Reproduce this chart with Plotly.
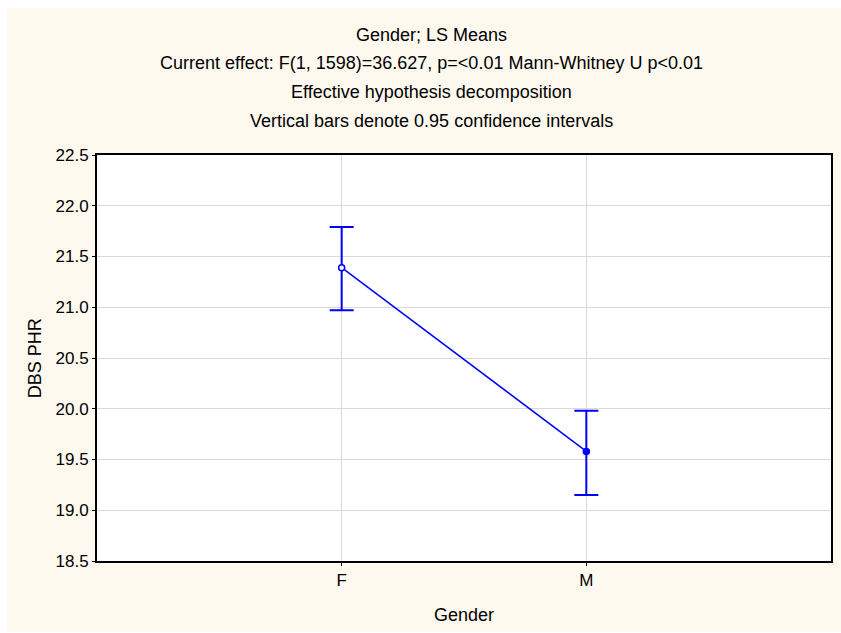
import plotly.graph_objects as go

categories = ["F", "M"]
means = [21.39, 19.58]
upper = [21.79, 19.98]
lower = [20.97, 19.15]
y_ticks = [18.5, 19.0, 19.5, 20.0, 20.5, 21.0, 21.5, 22.0, 22.5]
title_lines = [
    "Gender; LS Means",
    "Current effect: F(1, 1598)=36.627, p=<0.01 Mann-Whitney U p<0.01",
    "Effective hypothesis decomposition",
    "Vertical bars denote 0.95 confidence intervals",
]
x_label = "Gender"
y_label = "DBS PHR"

W, H = 841, 633
L, R, T, B = 97, 833, 155, 561
FONT = "Liberation Sans, Arial, sans-serif"
BEIGE = "#FEF9EF"


def px_x(p):
    return (p - L) / (R - L)


def px_y(p):
    return (B - p) / (B - T)


fig = go.Figure()
fig.add_trace(go.Scatter(
    x=categories, y=means,
    mode="lines+markers",
    line=dict(color="#0000FF", width=1.5),
    marker=dict(size=6, color=["white", "#0000FF"], line=dict(color="#0000FF", width=1.5)),
    error_y=dict(type="data", symmetric=False,
                 array=[u - m for u, m in zip(upper, means)],
                 arrayminus=[m - l for m, l in zip(means, lower)],
                 color="#0000FF", thickness=2, width=12),
    showlegend=False,
))

shapes = [
    dict(type="rect", xref="paper", yref="paper",
         x0=px_x(7), x1=px_x(845), y0=px_y(632), y1=px_y(8),
         fillcolor=BEIGE, line=dict(width=0), layer="below"),
    dict(type="rect", xref="paper", yref="paper", x0=0, x1=1, y0=0, y1=1,
         fillcolor="white", line=dict(width=0), layer="below"),
]

annotations = []
for txt, yy in zip(title_lines, [35, 63, 92, 121]):
    annotations.append(dict(text=txt, xref="paper", yref="paper", x=px_x(432), y=px_y(yy),
                            xanchor="center", yanchor="middle", showarrow=False,
                            font=dict(family=FONT, size=18, color="black")))
annotations.append(dict(text=x_label, xref="paper", yref="paper", x=px_x(465), y=px_y(615),
                        xanchor="center", yanchor="middle", showarrow=False,
                        font=dict(family=FONT, size=18, color="black")))
annotations.append(dict(text=y_label, xref="paper", yref="paper", x=px_x(35), y=px_y(358),
                        xanchor="center", yanchor="middle", showarrow=False, textangle=-90,
                        font=dict(family=FONT, size=18, color="black")))

fig.update_layout(
    width=W, height=H,
    margin=dict(l=L, r=W - R, t=T, b=H - B, pad=0),
    paper_bgcolor="white", plot_bgcolor="white",
    font=dict(family=FONT, size=17, color="black"),
    shapes=shapes, annotations=annotations,
    xaxis=dict(type="category", range=[-1, 2], showgrid=True, gridcolor="#D9D9D9", gridwidth=1,
               showline=True, linecolor="black", linewidth=2, mirror=True,
               ticks="outside", ticklen=3, tickcolor="black", tickwidth=1, zeroline=False),
    yaxis=dict(range=[18.5, 22.5], tickvals=y_ticks, ticktext=[f"{v:.1f}" for v in y_ticks],
               showgrid=True, gridcolor="#D9D9D9", gridwidth=1,
               showline=True, linecolor="black", linewidth=2, mirror=True,
               ticks="outside", ticklen=3, tickcolor="black", tickwidth=1, zeroline=False),
)

fig.write_html("out.html", config={"displayModeBar": False},
               post_script="document.body.style.margin='0';")
